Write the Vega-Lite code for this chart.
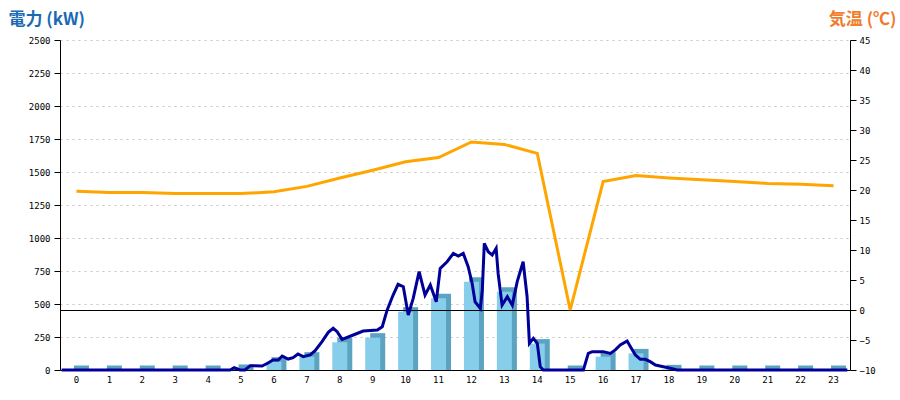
{
  "$schema": "https://vega.github.io/schema/vega-lite/v6.json",
  "width": 790,
  "height": 330,
  "autosize": "none",
  "padding": {"left": 60, "top": 40, "right": 50, "bottom": 30},
  "background": "white",
  "config": {
    "view": {"stroke": null},
    "axis": {"labelFont": "DejaVu Sans Mono", "labelFontSize": 9, "labelColor": "#000000"}
  },
  "datasets": {
    "hourly": [
      {"hour": 0, "kw": 0, "temp": 19.8},
      {"hour": 1, "kw": 0, "temp": 19.6},
      {"hour": 2, "kw": 0, "temp": 19.6},
      {"hour": 3, "kw": 0, "temp": 19.4},
      {"hour": 4, "kw": 0, "temp": 19.4},
      {"hour": 5, "kw": 8, "temp": 19.4},
      {"hour": 6, "kw": 63, "temp": 19.7},
      {"hour": 7, "kw": 101, "temp": 20.6},
      {"hour": 8, "kw": 210, "temp": 22.0},
      {"hour": 9, "kw": 245, "temp": 23.3},
      {"hour": 10, "kw": 442, "temp": 24.7},
      {"hour": 11, "kw": 543, "temp": 25.4},
      {"hour": 12, "kw": 669, "temp": 28.0},
      {"hour": 13, "kw": 593, "temp": 27.6},
      {"hour": 14, "kw": 200, "temp": 26.1},
      {"hour": 15, "kw": 0, "temp": 0},
      {"hour": 16, "kw": 101, "temp": 21.4},
      {"hour": 17, "kw": 126, "temp": 22.4},
      {"hour": 18, "kw": 5, "temp": 22.0},
      {"hour": 19, "kw": 0, "temp": 21.7},
      {"hour": 20, "kw": 0, "temp": 21.4},
      {"hour": 21, "kw": 0, "temp": 21.1},
      {"hour": 22, "kw": 0, "temp": 20.95},
      {"hour": 23, "kw": 0, "temp": 20.7}
    ],
    "power": [
      {"t": 0.05, "kw": 0},
      {"t": 5.17, "kw": 0},
      {"t": 5.29, "kw": 17},
      {"t": 5.47, "kw": 0},
      {"t": 5.62, "kw": 0},
      {"t": 5.78, "kw": 33},
      {"t": 6.14, "kw": 30},
      {"t": 6.32, "kw": 53},
      {"t": 6.47, "kw": 76},
      {"t": 6.63, "kw": 76},
      {"t": 6.75, "kw": 106},
      {"t": 6.93, "kw": 83},
      {"t": 7.08, "kw": 93},
      {"t": 7.23, "kw": 121},
      {"t": 7.39, "kw": 101},
      {"t": 7.60, "kw": 114},
      {"t": 7.75, "kw": 146},
      {"t": 7.96, "kw": 215},
      {"t": 8.15, "kw": 285},
      {"t": 8.30, "kw": 316},
      {"t": 8.42, "kw": 290},
      {"t": 8.57, "kw": 232},
      {"t": 8.91, "kw": 265},
      {"t": 9.21, "kw": 295},
      {"t": 9.64, "kw": 303},
      {"t": 9.79, "kw": 328},
      {"t": 9.94, "kw": 455},
      {"t": 10.12, "kw": 568},
      {"t": 10.27, "kw": 649},
      {"t": 10.43, "kw": 631},
      {"t": 10.58, "kw": 417},
      {"t": 10.73, "kw": 543},
      {"t": 10.91, "kw": 745},
      {"t": 11.09, "kw": 568},
      {"t": 11.25, "kw": 644},
      {"t": 11.43, "kw": 517},
      {"t": 11.55, "kw": 770},
      {"t": 11.76, "kw": 820},
      {"t": 11.95, "kw": 884},
      {"t": 12.10, "kw": 864},
      {"t": 12.25, "kw": 884},
      {"t": 12.40, "kw": 783},
      {"t": 12.52, "kw": 657},
      {"t": 12.61, "kw": 517},
      {"t": 12.77, "kw": 467},
      {"t": 12.83, "kw": 606},
      {"t": 12.89, "kw": 960},
      {"t": 13.01, "kw": 896},
      {"t": 13.13, "kw": 871},
      {"t": 13.25, "kw": 922},
      {"t": 13.31, "kw": 732},
      {"t": 13.43, "kw": 492},
      {"t": 13.59, "kw": 555},
      {"t": 13.74, "kw": 492},
      {"t": 13.89, "kw": 669},
      {"t": 14.07, "kw": 820},
      {"t": 14.19, "kw": 555},
      {"t": 14.26, "kw": 202},
      {"t": 14.38, "kw": 240},
      {"t": 14.50, "kw": 202},
      {"t": 14.59, "kw": 25},
      {"t": 14.68, "kw": 0},
      {"t": 15.90, "kw": 0},
      {"t": 16.05, "kw": 126},
      {"t": 16.17, "kw": 139},
      {"t": 16.50, "kw": 139},
      {"t": 16.72, "kw": 126},
      {"t": 16.87, "kw": 152},
      {"t": 17.02, "kw": 189},
      {"t": 17.23, "kw": 220},
      {"t": 17.33, "kw": 177},
      {"t": 17.48, "kw": 114},
      {"t": 17.63, "kw": 81},
      {"t": 17.78, "kw": 81},
      {"t": 17.93, "kw": 63},
      {"t": 18.09, "kw": 38},
      {"t": 18.33, "kw": 25},
      {"t": 18.54, "kw": 13},
      {"t": 18.75, "kw": 0},
      {"t": 23.92, "kw": 0}
    ]
  },
  "layer": [
    {
      "data": {"name": "hourly"},
      "mark": {"type": "bar", "width": 15, "xOffset": 5, "yOffset": -4.5, "y2Offset": 0, "color": "#5BA3C0"},
      "encoding": {
        "x": {
          "field": "hour", "type": "ordinal",
          "scale": {"type": "band", "paddingInner": 0, "paddingOuter": 0},
          "axis": {"title": null, "labelAngle": 0, "domainColor": "#000000", "ticks": false, "labelPadding": 5, "grid": false}
        },
        "y": {
          "field": "kw", "type": "quantitative",
          "scale": {"domain": [0, 2500], "nice": false},
          "axis": {
            "title": "電力 (kW)", "titleAngle": 0, "titleAlign": "left", "titleBaseline": "alphabetic",
            "titleX": -52, "titleY": -16, "titleFont": "Noto Sans CJK JP", "titleFontSize": 17,
            "titleFontWeight": "bold", "titleColor": "#1A6AB3",
            "values": [0, 250, 500, 750, 1000, 1250, 1500, 1750, 2000, 2250, 2500],
            "format": "d", "grid": true, "gridDash": [2, 4], "gridColor": "#C4C4C4",
            "domainColor": "#000000", "tickColor": "#000000", "tickSize": 6, "labelPadding": 4
          }
        },
        "y2": {"datum": 0}
      }
    },
    {
      "data": {"name": "hourly"},
      "mark": {"type": "bar", "width": 15, "color": "#87CEEB"},
      "encoding": {
        "x": {"field": "hour", "type": "ordinal", "scale": {"type": "band", "paddingInner": 0, "paddingOuter": 0}, "axis": null},
        "y": {"field": "kw", "type": "quantitative", "scale": {"domain": [0, 2500], "nice": false}, "axis": null},
        "y2": {"datum": 0}
      }
    },
    {
      "data": {"values": [{}]},
      "mark": {"type": "rule", "color": "#000000", "strokeWidth": 1, "yOffset": 0.5},
      "encoding": {
        "y": {"datum": 0, "type": "quantitative", "scale": {"domain": [-10, 45], "nice": false}, "axis": null}
      }
    },
    {
      "data": {"name": "power"},
      "mark": {"type": "line", "color": "#000099", "strokeWidth": 3},
      "encoding": {
        "x": {"field": "t", "type": "quantitative", "scale": {"domain": [0, 24], "nice": false, "zero": false}, "axis": null},
        "y": {"field": "kw", "type": "quantitative", "scale": {"domain": [0, 2500], "nice": false}, "axis": null}
      }
    },
    {
      "data": {"name": "hourly"},
      "mark": {"type": "line", "color": "#FFA500", "strokeWidth": 3},
      "encoding": {
        "x": {"field": "hour", "type": "ordinal", "scale": {"type": "band", "paddingInner": 0, "paddingOuter": 0}, "axis": null},
        "y": {
          "field": "temp", "type": "quantitative",
          "scale": {"domain": [-10, 45], "nice": false},
          "axis": {
            "orient": "right", "title": "気温 (℃)", "titleAngle": 0, "titleAlign": "right", "titleBaseline": "alphabetic",
            "titleX": 46, "titleY": -16, "titleFont": "Noto Sans CJK JP", "titleFontSize": 17,
            "titleFontWeight": "bold", "titleColor": "#EF7D2D",
            "values": [-10, -5, 0, 5, 10, 15, 20, 25, 30, 35, 40, 45],
            "grid": false, "domainColor": "#000000", "tickColor": "#000000", "tickSize": 6, "labelPadding": 3
          }
        }
      }
    }
  ],
  "resolve": {"scale": {"x": "independent", "y": "independent"}}
}
